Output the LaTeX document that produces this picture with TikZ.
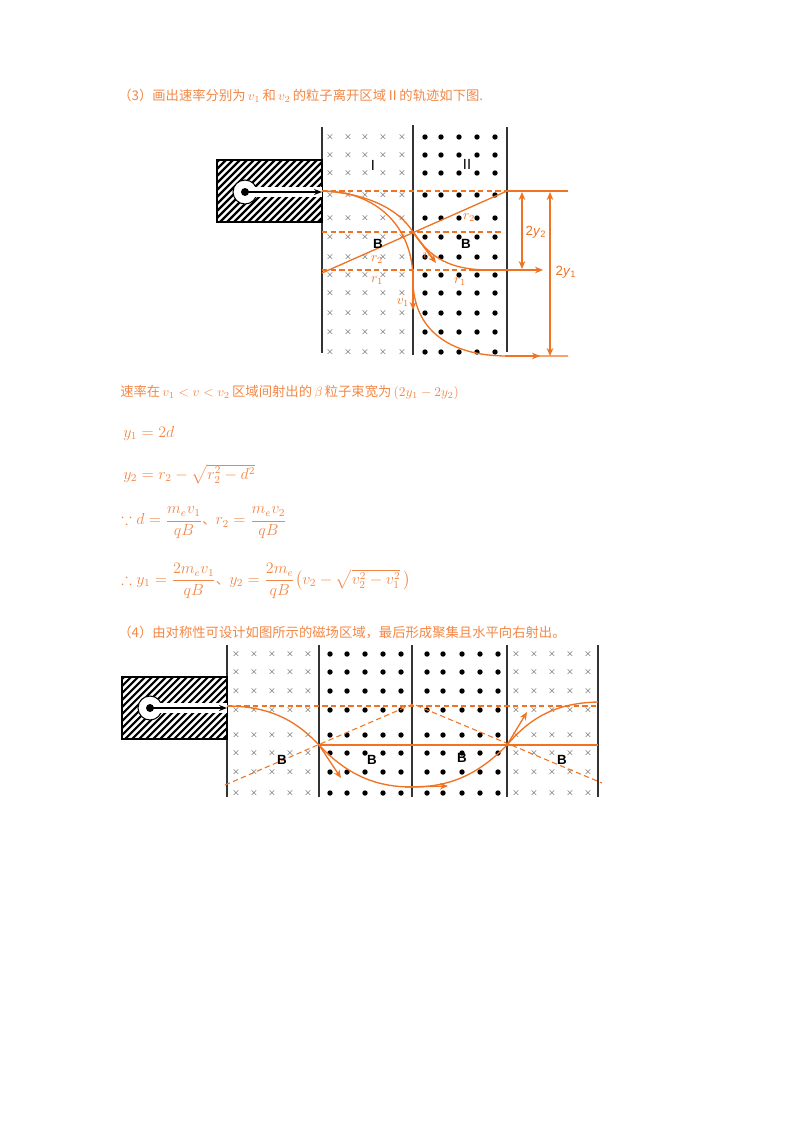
\documentclass[tikz,border=0pt]{standalone}
\usepackage{fontspec}
\usepackage{amsmath,amssymb}
\usetikzlibrary{arrows.meta}
\newfontfamily\cjk{Noto Sans CJK SC}
\newfontfamily\lsans{Liberation Sans}
\definecolor{org}{RGB}{240,115,35}
\definecolor{torg}{RGB}{242,135,70}
\begin{document}
\begin{tikzpicture}[x=0.75pt,y=-0.75pt,
  txt/.style={anchor=west,text=torg,font=\cjk\fontsize{10}{12}\selectfont,inner sep=0},
  mth/.style={anchor=west,text=torg,font=\fontsize{12}{14}\selectfont,inner sep=0},
  lab/.style={font=\lsans\bfseries\fontsize{10}{12}\selectfont,inner sep=0},
  olab/.style={text=org,font=\fontsize{10}{12}\selectfont,inner sep=0},
  oline/.style={org,line width=1pt},
  odash/.style={org,line width=0.8pt,dash pattern=on 4pt off 2.5pt},
  arr/.style={-{Stealth[length=6pt,width=5pt]}},
  bl/.style={line width=0.8pt,black!80}]
\useasboundingbox (0,0) rectangle (800,1132);
% ---------- texts
\node[txt] (t1) at (118,96) {（3）画出速率分别为\,$v_1$\,和\,$v_2$\,的粒子离开区域Ⅱ的轨迹如下图.};
\node[txt] (t2) at (120,392) {速率在\,$v_1<v<v_2$\,区域间射出的\,$\beta$\,粒子束宽为\,$(2y_1-2y_2)$};
\node[mth] (m1) at (123,433) {$y_1=2d$};
\node[mth] (m2) at (123,474) {$y_2=r_2-\sqrt{r_2^2-d^2}$};
\node[mth] (m3) at (121,523) {$\because d=\dfrac{m_e v_1}{qB}${\cjk\fontsize{10}{12}\selectfont 、}$r_2=\dfrac{m_e v_2}{qB}$};
\node[mth] (m4) at (121,581) {$\therefore y_1=\dfrac{2m_e v_1}{qB}${\cjk\fontsize{10}{12}\selectfont 、}$y_2=\dfrac{2m_e}{qB}\bigl(v_2-\sqrt{v_2^2-v_1^2}\,\bigr)$};
\node[txt] (t3) at (118,632) {（4）由对称性可设计如图所示的磁场区域，最后形成聚集且水平向右射出。};
% ---------- top figure
\foreach \y in {137,155,173,195,218,237,257,275,293,313,332,352}{
  \foreach \x in {330,348,365,383,402}{\node[font=\fontsize{7.5}{8}\selectfont,text=black!75,inner sep=0] at (\x,\y) {$\times$};}
  \foreach \x in {425,441,459,477,495}{\fill (\x,\y) circle (2.7);}
}
\draw[bl] (322,127) -- (322,353);
\draw[bl] (413,125) -- (413,355);
\draw[bl] (507,127) -- (507,352);
% source box
\begin{scope}
\clip (217,160) rectangle (322,222);
\foreach \i in {-60,-53,...,120}{\draw[line width=1.6pt] (217+\i,222) -- (217+\i+62,160);}
\end{scope}
\draw[line width=1pt] (217,160) rectangle (322,222);
\filldraw[fill=white,draw=black,line width=0.8pt] (245,192) circle (12);
\fill[white] (246,187) rectangle (322,197);
\fill (245,192) circle (4);
\draw[line width=2pt,-{Stealth[length=6pt]}] (245,192) -- (322,192);
% dashed guide lines
\draw[odash] (322,191) -- (507,191);
\draw[odash] (322,232) -- (503,232);
\draw[odash] (322,270) -- (503,270);
% r2 line
\draw[oline] (322,273) -- (507,191);
% trajectories
\draw[oline] (322,191) .. controls (375,191) and (413,225) .. (413,280) .. controls (413,330) and (450,356) .. (507,356) -- (568,356);
\draw[oline,arr] (505,356) -- (540,356);
\draw[oline] (322,191) .. controls (365,193) and (398,208) .. (413,232) .. controls (430,258) and (450,270) .. (490,270);
\draw[oline,arr] (470,270) -- (543,270);
\draw[oline] (507,191) -- (568,191);
\draw[oline,arr] (413,270) -- (413,310);
\draw[oline,line width=1.3pt,arr] (413,232) -- (436,263);
% dimensions
\draw[oline,{Stealth[length=6pt,width=5pt,open]}-{Stealth[length=6pt,width=5pt,open]}] (522,192) -- (522,269);
\draw[oline,{Stealth[length=6pt,width=5pt,open]}-{Stealth[length=6pt,width=5pt,open]}] (550,192) -- (550,356);
\node[text=org,font=\lsans\fontsize{10}{12}\selectfont] (d2) at (536,232) {2\textit{y}\textsubscript{2}};
\node[text=org,font=\lsans\fontsize{10}{12}\selectfont] (d1) at (566,272) {2\textit{y}\textsubscript{1}};
% labels
\node[lab,font=\lsans\fontsize{11}{12}\selectfont] (I) at (373,165) {I};
\node[lab,font=\lsans\fontsize{11}{12}\selectfont] (II) at (467,164) {II};
\node[lab] (B1) at (378,244) {B};
\node[lab] (B2) at (466,244) {B};
\node[olab] (r2a) at (377,260) {$r_2$};
\node[olab] (r1a) at (377,281) {$r_1$};
\node[olab] (r2b) at (469,218) {$r_2$};
\node[olab] (r1b) at (460,282) {$r_1$};
\node[olab] (v1) at (403,303) {$v_1$};
\node[olab] (v2) at (429,257) {$v_2$};
% ---------- bottom figure
\foreach \y in {654,672,691,710,735,753,772,793}{
  \foreach \x in {236,254,272,290,308,516,534,552,570,588}{\node[font=\fontsize{7.5}{8}\selectfont,text=black!75,inner sep=0] at (\x,\y) {$\times$};}
  \foreach \x in {330,347,365,383,401,427,443,462,480,498}{\fill (\x,\y) circle (2.7);}
}
\foreach \x in {227,319,412,507,598}{\draw[bl] (\x,645) -- (\x,797);}
\begin{scope}
\clip (122,677) rectangle (227,739);
\foreach \i in {-60,-53,...,120}{\draw[line width=1.6pt] (122+\i,739) -- (122+\i+62,677);}
\end{scope}
\draw[line width=1pt] (122,677) rectangle (227,739);
\filldraw[fill=white,draw=black,line width=0.8pt] (150,708) circle (12);
\fill[white] (151,703) rectangle (227,713);
\fill (150,708) circle (4);
\draw[line width=2pt,-{Stealth[length=6pt]}] (150,708) -- (227,708);
\draw[odash] (227,706) -- (598,706);
\draw[odash] (225,785) -- (413,704) -- (602,783);
\draw[oline] (319,745) -- (598,745);
\draw[oline] (227,706) .. controls (275,706) and (300,725) .. (319,745) .. controls (350,778) and (380,787) .. (412,787) .. controls (445,787) and (475,778) .. (507,745) .. controls (530,718) and (555,703) .. (598,702);
\draw[oline,arr] (319,745) -- (341,778);
\draw[oline,arr] (405,787) -- (448,786);
\draw[oline,arr] (507,745) -- (527,712);
\node[lab] (B3) at (282,760) {B};
\node[lab] (B4) at (372,760) {B};
\node[lab] (B5) at (462,758) {B};
\node[lab] (B6) at (562,760) {B};
\end{tikzpicture}
\end{document}
